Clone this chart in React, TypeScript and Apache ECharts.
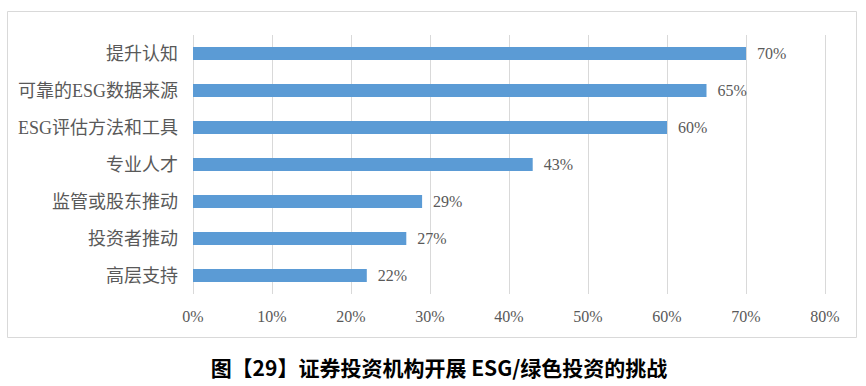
import React, { useEffect, useRef } from "react";
import * as echarts from "echarts";

const categories = ["提升认知", "可靠的ESG数据来源", "ESG评估方法和工具", "专业人才", "监管或股东推动", "投资者推动", "高层支持"];
const values = [70, 65, 60, 43, 29, 27, 22];
const xTicks = { min: 0, max: 80, interval: 10 };
const titleText = "图【29】证券投资机构开展 ESG/绿色投资的挑战";

const SERIF = "'Liberation Serif', 'DejaVu Serif', 'Noto Sans CJK SC', serif";

export default function App() {
  const ref = useRef<HTMLDivElement>(null);
  useEffect(() => {
    if (!ref.current) return;
    const chart = echarts.init(ref.current, null, { renderer: "svg" });
    chart.setOption({
      animation: false,
      backgroundColor: "#ffffff",
      grid: { left: 193, right: 41, top: 35, bottom: 92 },
      xAxis: {
        type: "value",
        min: xTicks.min,
        max: xTicks.max,
        interval: xTicks.interval,
        axisLine: { show: false },
        axisTick: { show: false },
        splitLine: { show: true, lineStyle: { color: "#D9D9D9", width: 1 } },
        axisLabel: {
          formatter: (v: number) => v + "%",
          color: "#595959",
          fontSize: 16,
          fontFamily: SERIF,
          margin: 14,
        },
      },
      yAxis: {
        type: "category",
        data: categories,
        inverse: true,
        axisLine: { show: false },
        axisTick: { show: false },
        axisLabel: {
          color: "#595959",
          fontSize: 18,
          fontFamily: SERIF,
          margin: 15,
        },
      },
      series: [
        {
          type: "bar",
          data: values,
          barWidth: 13,
          itemStyle: { color: "#5B9BD5" },
          label: {
            show: true,
            position: "right",
            distance: 11,
            formatter: (p: any) => p.value + "%",
            color: "#595959",
            fontSize: 16,
            fontFamily: SERIF,
          },
        },
      ],
      graphic: [
        {
          type: "rect",
          shape: { x: 7.5, y: 11.5, width: 849, height: 326 },
          style: { fill: "none", stroke: "#D9D9D9", lineWidth: 1 },
          silent: true,
        },
        {
          type: "text",
          x: 439,
          y: 367,
          style: {
            text: titleText,
            fill: "#000000",
            fontSize: 21,
            fontWeight: "bold",
            fontFamily: "'Noto Sans CJK SC', sans-serif",
            align: "center",
            verticalAlign: "middle",
          },
        },
      ],
    });
    return () => chart.dispose();
  }, []);
  return (
    <div
      ref={ref}
      style={{ position: "fixed", left: 0, top: 0, width: 866, height: 386 }}
    />
  );
}
